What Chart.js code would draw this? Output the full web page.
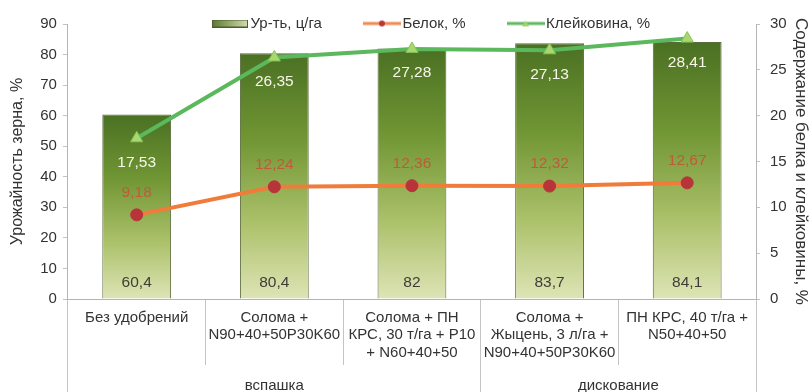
<!DOCTYPE html>
<html lang="ru">
<head>
<meta charset="utf-8">
<title>Урожайность и качество зерна</title>
<script src="https://cdn.jsdelivr.net/npm/chart.js@4.4.1/dist/chart.umd.min.js"></script>
<style>
  html, body { margin: 0; padding: 0; background: #fff; }
  #wrap { width: 811px; height: 392px; position: relative; }
</style>
</head>
<body>
<div id="wrap"><canvas id="yieldChart"></canvas></div>
<script>
// Variants of soil treatment and fertilizing
const categories = [
  ["Без удобрений"],
  ["Солома +", "N90+40+50P30K60"],
  ["Солома + ПН", "КРС, 30 т/га + Р10", "+ N60+40+50"],
  ["Солома +", "Жыцень, 3 л/га +", "N90+40+50P30K60"],
  ["ПН КРС, 40 т/га +", "N50+40+50"]
];
const groupLabels = ["вспашка", "дискование"];
const groupSizes = [3, 2];

const yieldValues = [60.4, 80.4, 82, 83.7, 84.1];
const proteinValues = [9.18, 12.24, 12.36, 12.32, 12.67];
const glutenValues = [17.53, 26.35, 27.28, 27.13, 28.41];

const yieldTicks = { min: 0, max: 90, step: 10 };
const contentTicks = { min: 0, max: 30, step: 5 };

const FONT = "'Liberation Sans', Arial, sans-serif";

// group boundaries and centres on a 0..N scale for the lower axis
const groupBounds = [0];
groupSizes.forEach((n) => groupBounds.push(groupBounds[groupBounds.length - 1] + n));
const groupCenters = groupSizes.map((n, i) => groupBounds[i] + n / 2);

const fmt = (v) => String(v).replace(".", ",");

// small canvases used as legend icons
function makeIcon(w, h, draw) {
  const c = document.createElement("canvas");
  c.width = w;
  c.height = h;
  draw(c.getContext("2d"), w, h);
  return c;
}

const barIcon = makeIcon(36, 8, (g, w, h) => {
  const gr = g.createLinearGradient(0, 0, w, 0);
  gr.addColorStop(0, "#5a7a2c");
  gr.addColorStop(1, "#d4dcae");
  g.fillStyle = gr;
  g.fillRect(0.5, 0.5, w - 1, h - 1);
  g.strokeStyle = "#4c5c34";
  g.lineWidth = 1;
  g.strokeRect(0.5, 0.5, w - 1, h - 1);
});

const proteinIcon = makeIcon(38, 8, (g, w, h) => {
  g.strokeStyle = "#f28a4c";
  g.lineWidth = 3;
  g.beginPath();
  g.moveTo(0, h / 2);
  g.lineTo(w, h / 2);
  g.stroke();
  g.fillStyle = "#b8363a";
  g.beginPath();
  g.arc(w / 2, h / 2, 3, 0, Math.PI * 2);
  g.fill();
});

const glutenIcon = makeIcon(38, 8, (g, w, h) => {
  g.strokeStyle = "#62b862";
  g.lineWidth = 3;
  g.beginPath();
  g.moveTo(0, h / 2);
  g.lineTo(w, h / 2);
  g.stroke();
  g.fillStyle = "#9fd46a";
  g.beginPath();
  g.moveTo(w / 2, 1);
  g.lineTo(w / 2 + 3.5, 7);
  g.lineTo(w / 2 - 3.5, 7);
  g.closePath();
  g.fill();
});

// one icon per dataset, in dataset order
const legendIcons = [barIcon, proteinIcon, glutenIcon];

// vertical gradient for each bar, dark on top and pale at the base
function barGradient(ctx) {
  const chart = ctx.chart;
  const y = chart.scales.y;
  if (!chart.chartArea || !y || ctx.raw == null) return "#7a9a3a";
  const top = y.getPixelForValue(ctx.raw);
  const bottom = y.getPixelForValue(0);
  const gr = chart.ctx.createLinearGradient(0, top, 0, bottom);
  gr.addColorStop(0, "#4a7023");
  gr.addColorStop(0.35, "#719634");
  gr.addColorStop(0.7, "#adc26c");
  gr.addColorStop(1, "#dee4b6");
  return gr;
}

// value labels for bars and both lines
const valueLabels = {
  id: "valueLabels",
  afterDatasetsDraw(chart) {
    const g = chart.ctx;
    g.save();
    g.textAlign = "center";
    g.textBaseline = "middle";
    g.font = "15.5px " + FONT;
    chart.data.datasets.forEach((ds, di) => {
      const meta = chart.getDatasetMeta(di);
      meta.data.forEach((el, i) => {
        const v = ds.data[i];
        if (ds.type === "bar") {
          g.fillStyle = "#3e3e36";
          g.fillText(fmt(v), el.x, el.base - 16);
        } else if (di === 1) {
          g.fillStyle = "#bd5c3a";
          g.fillText(fmt(v), el.x, el.y - 22);
        } else {
          g.fillStyle = "#f6f6ea";
          g.fillText(fmt(v), el.x, el.y + 24);
        }
      });
    });
    g.restore();
  }
};

// legend sits on the same line as the top tick, above the plot
const legendPlace = {
  id: "legendPlace",
  beforeInit(chart) {
    const fit = chart.legend.fit;
    chart.legend.fit = function () {
      fit.call(this);
      this.height = 14;
    };
  },
  afterLayout(chart) {
    const lg = chart.legend;
    const pad = lg.options.labels.padding;
    lg.top = 16 - pad;
    lg.bottom = 40;
    lg.left += 24;
    lg.right += 24;
  }
};

new Chart(document.getElementById("yieldChart"), {
  data: {
    labels: categories,
    datasets: [
      {
        type: "bar",
        label: "Ур-ть, ц/га",
        data: yieldValues,
        yAxisID: "y",
        xAxisID: "x",
        backgroundColor: barGradient,
        borderColor: "#5a6a3c",
        borderWidth: 1,
        barPercentage: 0.5,
        categoryPercentage: 1,
        order: 3
      },
      {
        type: "line",
        label: "Белок, %",
        data: proteinValues,
        yAxisID: "y1",
        xAxisID: "x",
        borderColor: "#f07b3a",
        borderWidth: 4,
        pointRadius: 6,
        pointBackgroundColor: "#b8333a",
        pointBorderColor: "#b8333a",
        pointBorderWidth: 1,
        order: 2
      },
      {
        type: "line",
        label: "Клейковина, %",
        data: glutenValues,
        yAxisID: "y1",
        xAxisID: "x",
        borderColor: "#5cb85c",
        borderWidth: 4,
        pointStyle: "triangle",
        pointRadius: 7,
        pointBackgroundColor: "#a8d870",
        pointBorderColor: "#86c256",
        pointBorderWidth: 1,
        order: 1
      }
    ]
  },
  options: {
    responsive: true,
    maintainAspectRatio: false,
    animation: false,
    layout: { padding: { top: 10, left: 8, right: 0, bottom: 0 } },
    scales: {
      x: {
        type: "category",
        position: "bottom",
        weight: 0,
        offset: true,
        afterFit: (axis) => { axis.height = 61; },
        grid: {
          offset: true,
          drawOnChartArea: false,
          tickLength: 66,
          color: "#c4c4c4"
        },
        border: { color: "#b4b4b4" },
        ticks: {
          padding: -56,
          maxRotation: 0,
          autoSkip: false,
          color: "#333",
          font: { family: FONT, size: 15, lineHeight: 1.17 }
        }
      },
      x2: {
        type: "linear",
        position: "bottom",
        weight: 1,
        min: 0,
        max: groupBounds[groupBounds.length - 1],
        afterFit: (axis) => { axis.height = 32; },
        afterBuildTicks: (axis) => {
          axis.ticks = [...groupBounds, ...groupCenters]
            .sort((a, b) => a - b)
            .map((v) => ({ value: v }));
        },
        grid: {
          drawOnChartArea: false,
          tickLength: 32,
          color: (ctx) =>
            ctx.tick && groupBounds.includes(ctx.tick.value) ? "#c4c4c4" : "rgba(0,0,0,0)"
        },
        border: { display: false },
        ticks: {
          padding: -15,
          autoSkip: false,
          maxRotation: 0,
          color: "#333",
          font: { family: FONT, size: 15 },
          callback: (v) => {
            const k = groupCenters.indexOf(v);
            return k >= 0 ? groupLabels[k] : "";
          }
        }
      },
      y: {
        position: "left",
        min: yieldTicks.min,
        max: yieldTicks.max,
        grid: { drawOnChartArea: false, tickLength: 5, color: "#c4c4c4" },
        border: { color: "#b4b4b4" },
        ticks: {
          stepSize: yieldTicks.step,
          padding: 6,
          color: "#333",
          font: { family: FONT, size: 15 }
        },
        title: {
          display: true,
          text: "Урожайность зерна, %",
          color: "#333",
          font: { family: FONT, size: 16 },
          padding: { top: 0, bottom: 7 }
        }
      },
      y1: {
        position: "right",
        min: contentTicks.min,
        max: contentTicks.max,
        afterFit: (axis) => { axis.width = 55; },
        grid: { drawOnChartArea: false, tickLength: 4, color: "#c4c4c4" },
        border: { color: "#b4b4b4" },
        ticks: {
          stepSize: contentTicks.step,
          padding: 10,
          color: "#333",
          font: { family: FONT, size: 15 }
        },
        title: {
          display: true,
          text: "Содержание белка и клейковины, %",
          color: "#333",
          font: { family: FONT, size: 17 },
          padding: { top: 0, bottom: 0 }
        }
      }
    },
    plugins: {
      legend: {
        position: "top",
        labels: {
          usePointStyle: true,
          pointStyleWidth: 26,
          padding: 47,
          color: "#333",
          font: { family: FONT, size: 15 },
          sort: (a, b) => a.datasetIndex - b.datasetIndex,
          generateLabels: (chart) =>
            Chart.defaults.plugins.legend.labels
              .generateLabels(chart)
              .map((item) => ({ ...item, pointStyle: legendIcons[item.datasetIndex] }))
        }
      },
      tooltip: { enabled: false }
    }
  },
  plugins: [valueLabels, legendPlace]
});
</script>
</body>
</html>
